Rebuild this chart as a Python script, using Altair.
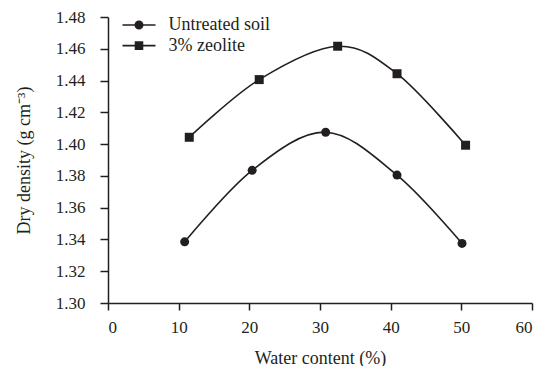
import altair as alt
import pandas as pd

series_names = ["Untreated soil", "3% zeolite"]
water_untreated = [10.85, 20.4, 30.8, 40.9, 50.1]
density_untreated = [1.3385, 1.3835, 1.4075, 1.3805, 1.3375]
water_zeolite = [11.5, 21.4, 32.5, 40.9, 50.6]
density_zeolite = [1.4043, 1.4406, 1.4616, 1.4443, 1.3993]
x_ticks = [0, 10, 20, 30, 40, 50, 60]
y_ticks = [1.30, 1.32, 1.34, 1.36, 1.38, 1.40, 1.42, 1.44, 1.46, 1.48]

df = pd.concat([
    pd.DataFrame({"series": series_names[0], "water": water_untreated, "density": density_untreated}),
    pd.DataFrame({"series": series_names[1], "water": water_zeolite, "density": density_zeolite}),
], ignore_index=True)

INK = "#231f20"
FONT = "Liberation Serif, Times New Roman, serif"
W, H = 424, 286

# legend symbols: a short line with the marker on it (unit coords, scaled by sqrt(size)/2)
bar = "M-3.67,-0.18H3.67V0.18H-3.67Z"
circ_path = bar + "M1,0A1,1 0 1,1 -1,0A1,1 0 1,1 1,0Z"
sq_path = bar + "M-0.95,-0.95H0.95V0.95H-0.95Z"

x_enc = alt.X(
    "water:Q",
    scale=alt.Scale(domain=[0, 60], nice=False, zero=False),
    axis=alt.Axis(values=x_ticks, title="Water content (%)", format="d",
                  tickSize=7, labelPadding=9, titleX=W / 2, titleY=55,
                  titleBaseline="middle"),
)
y_enc = alt.Y(
    "density:Q",
    scale=alt.Scale(domain=[1.30, 1.48], nice=False, zero=False),
    axis=alt.Axis(values=y_ticks, format=".2f", title="Dry density (g cm⁻³)",
                  tickSize=8, labelPadding=15, titleX=-84, titleY=H / 2,
                  titleAngle=-90, titleBaseline="middle"),
)

lines = alt.Chart(df).mark_line(interpolate="cardinal", color=INK, strokeWidth=1.6).encode(
    x=x_enc, y=y_enc, detail="series:N"
)

points = alt.Chart(df).mark_point(filled=True, size=81, opacity=1, color=INK).encode(
    x=x_enc, y=y_enc,
    shape=alt.Shape("series:N",
                    scale=alt.Scale(domain=series_names, range=["circle", "square"]),
                    legend=None),
)

# legend-only layer: its symbols combine the line and the marker
legend_layer = alt.Chart(df).mark_point(filled=True, size=81, opacity=1, color=INK, clip=True).encode(
    x=alt.value(-500), y=alt.value(-500),
    shape=alt.Shape(
        "series:N",
        scale=alt.Scale(domain=series_names, range=[circ_path, sq_path]),
        legend=alt.Legend(
            orient="none", legendX=22, legendY=-1, title=None,
            labelOffset=20.5, symbolSize=81, labelFont=FONT, labelFontSize=18,
            labelColor=INK, rowPadding=2.6,
        ),
    ),
)

chart = alt.layer(lines, points, legend_layer).resolve_scale(shape="independent").properties(
    width=W, height=H,
    autosize=alt.AutoSizeParams(type="none"),
    padding={"left": 100, "top": 9, "right": 9, "bottom": 63},
).configure_view(stroke=None).configure_axis(
    grid=False, domainColor=INK, tickColor=INK, domainWidth=1.5, tickWidth=1.5,
    labelFont=FONT, labelFontSize=17, labelColor=INK,
    titleFont=FONT, titleFontSize=18, titleFontWeight="normal", titleColor=INK,
)

chart.save("out.html", embed_options={"renderer": "svg", "actions": False})
